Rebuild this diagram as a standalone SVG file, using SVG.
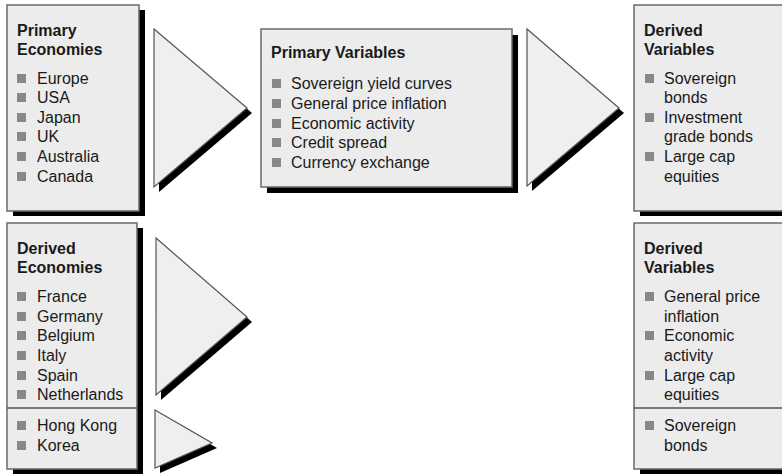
<svg xmlns="http://www.w3.org/2000/svg" width="782" height="474" viewBox="0 0 782 474">
<style>
text{font-family:"Liberation Sans",Arial,sans-serif;font-size:16px;fill:#1a1a1a}
.t{font-weight:bold}
.box{fill:#ececec;stroke:#6a6a6a;stroke-width:1.5}
.sh{fill:#000}
.tri{fill:#efefef;stroke:#555;stroke-width:1.2}
.b{fill:#888}
.div{stroke:#555;stroke-width:1.5}
</style>
<defs>
<rect id="bl" class="b" width="9" height="9"/>
</defs>
<g id="connectors">
<polygon class="sh" points="159,34 252,113 159,192"/>
<polygon class="tri" points="154,29 247,108 154,187"/>
<polygon class="sh" points="532,34 624,113 532,191"/>
<polygon class="tri" points="527,29 619,108 527,186"/>
<polygon class="sh" points="161,243 252,322 161,400"/>
<polygon class="tri" points="156,238 247,317 156,395"/>
<polygon class="sh" points="160,415 217,448 160,473"/>
<polygon class="tri" points="155,410 212,443 155,468"/>
</g>
<g id="primary-economies">
<rect class="sh" x="13" y="10" width="132" height="206"/>
<rect class="box" x="7" y="5" width="132" height="206"/>
<text class="t" x="17" y="36">Primary</text>
<text class="t" x="17" y="55">Economies</text>
<use href="#bl" x="17" y="74"/><text x="37" y="84">Europe</text>
<use href="#bl" x="17" y="93"/><text x="37" y="103">USA</text>
<use href="#bl" x="17" y="113"/><text x="37" y="123">Japan</text>
<use href="#bl" x="17" y="132"/><text x="37" y="142">UK</text>
<use href="#bl" x="17" y="152"/><text x="37" y="162">Australia</text>
<use href="#bl" x="17" y="172"/><text x="37" y="182">Canada</text>
</g>
<g id="primary-variables">
<rect class="sh" x="267" y="35" width="251" height="158"/>
<rect class="box" x="261" y="29" width="251" height="158"/>
<text class="t" x="271" y="58">Primary Variables</text>
<use href="#bl" x="272" y="79"/><text x="291" y="89">Sovereign yield curves</text>
<use href="#bl" x="272" y="99"/><text x="291" y="109">General price inflation</text>
<use href="#bl" x="272" y="119"/><text x="291" y="129">Economic activity</text>
<use href="#bl" x="272" y="138"/><text x="291" y="148">Credit spread</text>
<use href="#bl" x="272" y="158"/><text x="291" y="168">Currency exchange</text>
</g>
<g id="derived-variables-1">
<rect class="sh" x="640" y="10" width="200" height="206"/>
<rect class="box" x="634" y="5" width="200" height="206"/>
<text class="t" x="644" y="36">Derived</text>
<text class="t" x="644" y="55">Variables</text>
<use href="#bl" x="645" y="74"/><text x="664" y="84">Sovereign</text>
<text x="664" y="103">bonds</text>
<use href="#bl" x="645" y="113"/><text x="664" y="123">Investment</text>
<text x="664" y="142">grade bonds</text>
<use href="#bl" x="645" y="152"/><text x="664" y="162">Large cap</text>
<text x="664" y="182">equities</text>
</g>
<g id="derived-economies">
<rect class="sh" x="13" y="228" width="130" height="252"/>
<rect class="box" x="7" y="223" width="130" height="246"/>
<line class="div" x1="7" y1="408" x2="137" y2="408"/>
<text class="t" x="17" y="254">Derived</text>
<text class="t" x="17" y="273">Economies</text>
<use href="#bl" x="17" y="292"/><text x="37" y="302">France</text>
<use href="#bl" x="17" y="312"/><text x="37" y="322">Germany</text>
<use href="#bl" x="17" y="331"/><text x="37" y="341">Belgium</text>
<use href="#bl" x="17" y="351"/><text x="37" y="361">Italy</text>
<use href="#bl" x="17" y="371"/><text x="37" y="381">Spain</text>
<use href="#bl" x="17" y="390"/><text x="37" y="400">Netherlands</text>
<use href="#bl" x="17" y="421"/><text x="37" y="431">Hong Kong</text>
<use href="#bl" x="17" y="441"/><text x="37" y="451">Korea</text>
</g>
<g id="derived-variables-2">
<rect class="sh" x="640" y="228" width="200" height="252"/>
<rect class="box" x="634" y="223" width="200" height="246"/>
<line class="div" x1="634" y1="408" x2="782" y2="408"/>
<text class="t" x="644" y="254">Derived</text>
<text class="t" x="644" y="273">Variables</text>
<use href="#bl" x="645" y="292"/><text x="664" y="302">General price</text>
<text x="664" y="322">inflation</text>
<use href="#bl" x="645" y="331"/><text x="664" y="341">Economic</text>
<text x="664" y="361">activity</text>
<use href="#bl" x="645" y="371"/><text x="664" y="381">Large cap</text>
<text x="664" y="400">equities</text>
<use href="#bl" x="645" y="421"/><text x="664" y="431">Sovereign</text>
<text x="664" y="451">bonds</text>
</g>
</svg>
